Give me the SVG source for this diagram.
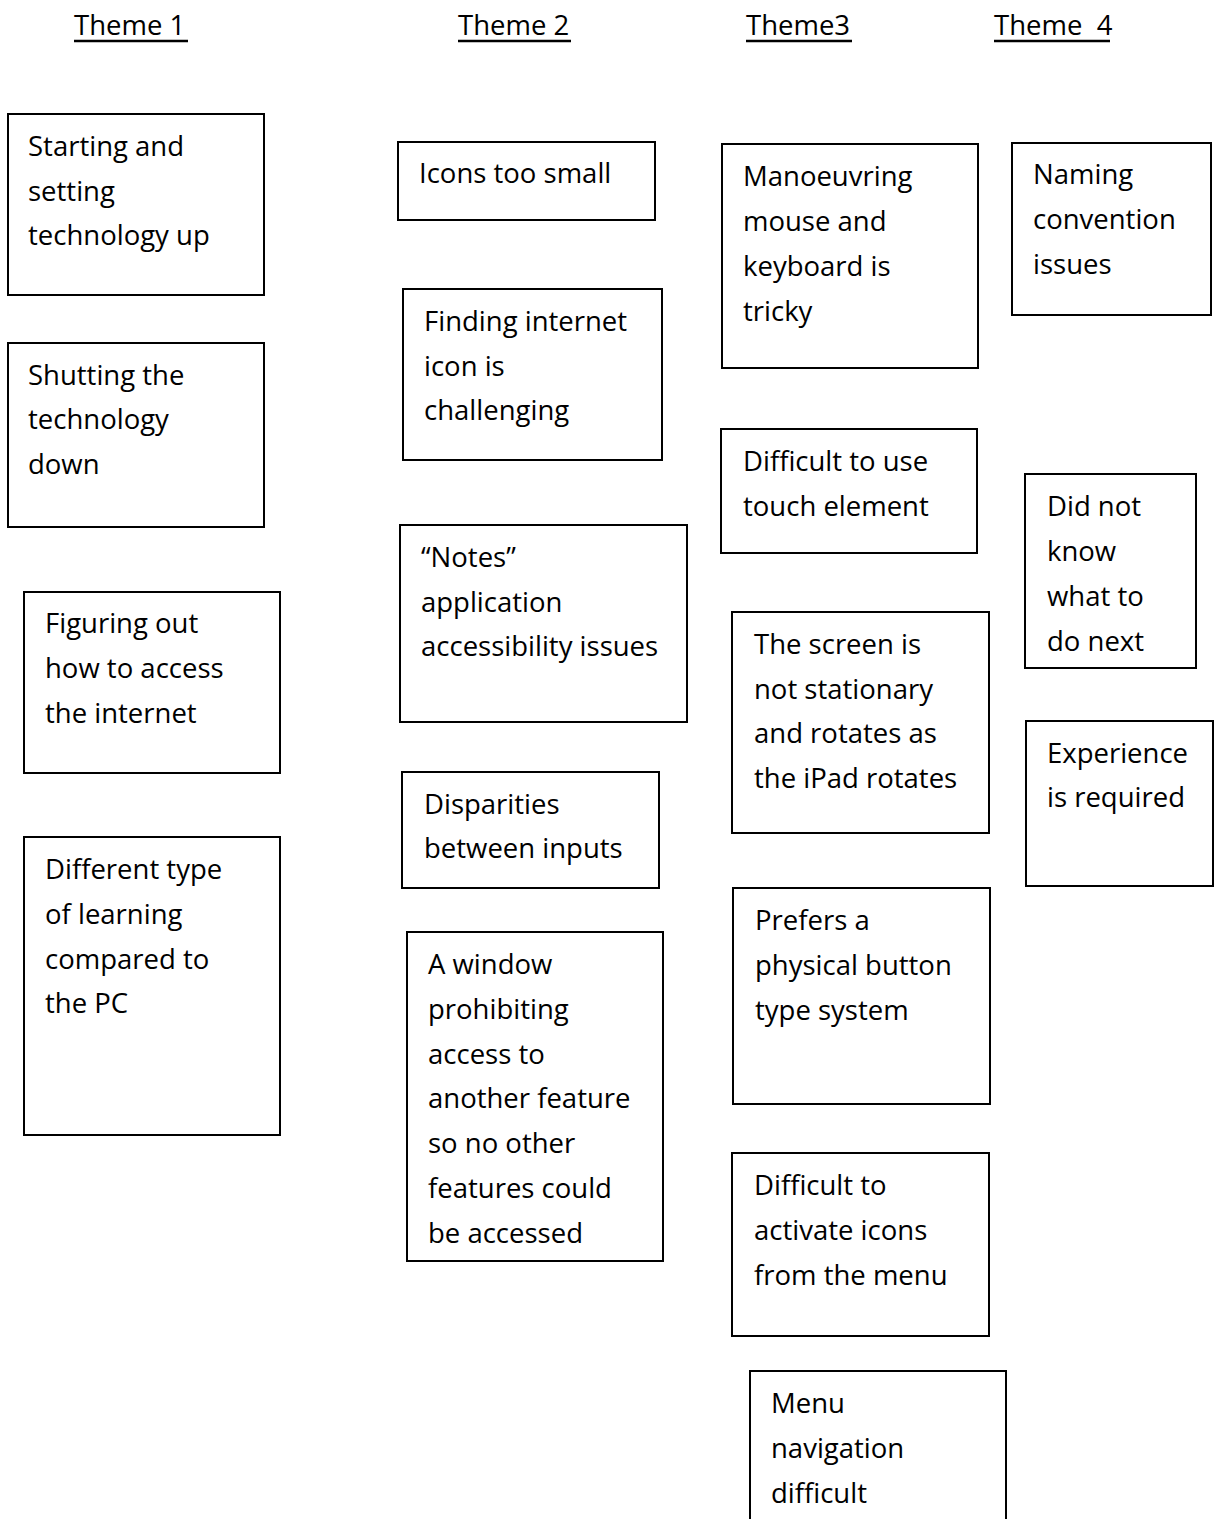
<svg xmlns="http://www.w3.org/2000/svg" width="1217" height="1519" viewBox="0 0 1217 1519">
  <style>
    .box { fill: #ffffff; stroke: #000000; stroke-width: 2; }
    .lbl { font-family: "Open Sans", "Noto Sans", sans-serif; font-size: 27.5px; fill: #000000; }
    .head { font-family: "Open Sans", "Noto Sans", sans-serif; font-size: 27.5px; fill: #000000; }
    .rule { stroke: #000000; stroke-width: 2.5; }
  </style>
  <rect width="1217" height="1519" fill="#ffffff"/>

  <!-- column headings -->
  <g id="headings">
    <text class="head" x="74" y="35">Theme 1</text>
    <line class="rule" x1="74" y1="41" x2="188" y2="41"/>
    <text class="head" x="458" y="35">Theme 2</text>
    <line class="rule" x1="458" y1="41" x2="571" y2="41"/>
    <text class="head" x="746" y="35">Theme3</text>
    <line class="rule" x1="746" y1="41" x2="852" y2="41"/>
    <text class="head" x="994" y="35" xml:space="preserve">Theme  4</text>
    <line class="rule" x1="994" y1="41" x2="1110" y2="41"/>
  </g>

  <!-- Theme 1 -->
  <g id="t1-starting">
    <rect class="box" x="8" y="114" width="256" height="181"/>
    <text class="lbl" x="28"><tspan x="28" y="156">Starting and</tspan><tspan x="28" y="201">setting</tspan><tspan x="28" y="245">technology up</tspan></text>
  </g>
  <g id="t1-shutting">
    <rect class="box" x="8" y="343" width="256" height="184"/>
    <text class="lbl"><tspan x="28" y="385">Shutting the</tspan><tspan x="28" y="429">technology</tspan><tspan x="28" y="474">down</tspan></text>
  </g>
  <g id="t1-internet">
    <rect class="box" x="24" y="592" width="256" height="181"/>
    <text class="lbl"><tspan x="45" y="633">Figuring out</tspan><tspan x="45" y="678">how to access</tspan><tspan x="45" y="723">the internet</tspan></text>
  </g>
  <g id="t1-learning">
    <rect class="box" x="24" y="837" width="256" height="298"/>
    <text class="lbl"><tspan x="45" y="879">Different type</tspan><tspan x="45" y="924">of learning</tspan><tspan x="45" y="969">compared to</tspan><tspan x="45" y="1013">the PC</tspan></text>
  </g>

  <!-- Theme 2 -->
  <g id="t2-icons">
    <rect class="box" x="398" y="142" width="257" height="78"/>
    <text class="lbl"><tspan x="419" y="183">Icons too small</tspan></text>
  </g>
  <g id="t2-finding">
    <rect class="box" x="403" y="289" width="259" height="171"/>
    <text class="lbl"><tspan x="424" y="331">Finding internet</tspan><tspan x="424" y="376">icon is</tspan><tspan x="424" y="420">challenging</tspan></text>
  </g>
  <g id="t2-notes">
    <rect class="box" x="400" y="525" width="287" height="197"/>
    <text class="lbl"><tspan x="421" y="567">“Notes”</tspan><tspan x="421" y="612">application</tspan><tspan x="421" y="656">accessibility issues</tspan></text>
  </g>
  <g id="t2-inputs">
    <rect class="box" x="402" y="772" width="257" height="116"/>
    <text class="lbl"><tspan x="424" y="814">Disparities</tspan><tspan x="424" y="858">between inputs</tspan></text>
  </g>
  <g id="t2-window">
    <rect class="box" x="407" y="932" width="256" height="329"/>
    <text class="lbl"><tspan x="428" y="974">A window</tspan><tspan x="428" y="1019">prohibiting</tspan><tspan x="428" y="1064">access to</tspan><tspan x="428" y="1108">another feature</tspan><tspan x="428" y="1153">so no other</tspan><tspan x="428" y="1198">features could</tspan><tspan x="428" y="1243">be accessed</tspan></text>
  </g>

  <!-- Theme 3 -->
  <g id="t3-mouse">
    <rect class="box" x="722" y="144" width="256" height="224"/>
    <text class="lbl"><tspan x="743" y="186">Manoeuvring</tspan><tspan x="743" y="231">mouse and</tspan><tspan x="743" y="276">keyboard is</tspan><tspan x="743" y="321">tricky</tspan></text>
  </g>
  <g id="t3-touch">
    <rect class="box" x="721" y="429" width="256" height="124"/>
    <text class="lbl"><tspan x="743" y="471">Difficult to use</tspan><tspan x="743" y="516">touch element</tspan></text>
  </g>
  <g id="t3-screen">
    <rect class="box" x="732" y="612" width="257" height="221"/>
    <text class="lbl"><tspan x="754" y="654">The screen is</tspan><tspan x="754" y="699">not stationary</tspan><tspan x="754" y="743">and rotates as</tspan><tspan x="754" y="788">the iPad rotates</tspan></text>
  </g>
  <g id="t3-button">
    <rect class="box" x="733" y="888" width="257" height="216"/>
    <text class="lbl"><tspan x="755" y="930">Prefers a</tspan><tspan x="755" y="975">physical button</tspan><tspan x="755" y="1020">type system</tspan></text>
  </g>
  <g id="t3-activate">
    <rect class="box" x="732" y="1153" width="257" height="183"/>
    <text class="lbl"><tspan x="754" y="1195">Difficult to</tspan><tspan x="754" y="1240">activate icons</tspan><tspan x="754" y="1285">from the menu</tspan></text>
  </g>
  <g id="t3-menu">
    <rect class="box" x="750" y="1371" width="256" height="160"/>
    <text class="lbl"><tspan x="771" y="1413">Menu</tspan><tspan x="771" y="1458">navigation</tspan><tspan x="771" y="1503">difficult</tspan></text>
  </g>

  <!-- Theme 4 -->
  <g id="t4-naming">
    <rect class="box" x="1012" y="143" width="199" height="172"/>
    <text class="lbl"><tspan x="1033" y="184">Naming</tspan><tspan x="1033" y="229">convention</tspan><tspan x="1033" y="274">issues</tspan></text>
  </g>
  <g id="t4-next">
    <rect class="box" x="1025" y="474" width="171" height="194"/>
    <text class="lbl"><tspan x="1047" y="516">Did not</tspan><tspan x="1047" y="561">know</tspan><tspan x="1047" y="606">what to</tspan><tspan x="1047" y="651">do next</tspan></text>
  </g>
  <g id="t4-experience">
    <rect class="box" x="1026" y="721" width="187" height="165"/>
    <text class="lbl"><tspan x="1047" y="763">Experience</tspan><tspan x="1047" y="807">is required</tspan></text>
  </g>

  <!-- no connectors between themes -->
  <g id="connectors"/>
</svg>
